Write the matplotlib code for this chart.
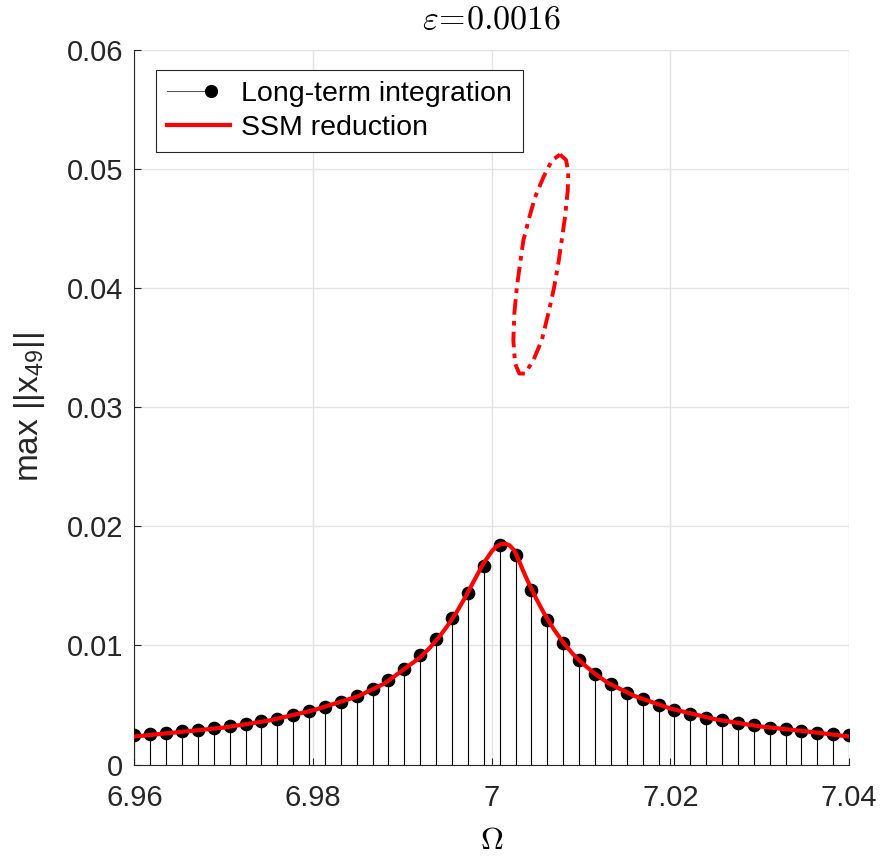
import matplotlib.pyplot as plt
from matplotlib.lines import Line2D
from matplotlib.legend_handler import HandlerBase

plt.rcParams['font.family'] = ['Liberation Sans', 'DejaVu Sans']
plt.rcParams['mathtext.fontset'] = 'custom'
plt.rcParams['mathtext.rm'] = 'Liberation Sans'

# long-term integration samples
omega = [6.96000, 6.96178, 6.96356, 6.96533, 6.96711, 6.96889, 6.97067, 6.97244,
         6.97422, 6.97600, 6.97778, 6.97956, 6.98133, 6.98311, 6.98489, 6.98667,
         6.98844, 6.99022, 6.99200, 6.99378, 6.99556, 6.99733, 6.99911, 7.00089,
         7.00267, 7.00444, 7.00622, 7.00800, 7.00978, 7.01156, 7.01333, 7.01511,
         7.01689, 7.01867, 7.02044, 7.02222, 7.02400, 7.02578, 7.02756, 7.02933,
         7.03111, 7.03289, 7.03467, 7.03644, 7.03822, 7.04000]
amp_int = [0.00246, 0.00260, 0.00268, 0.00279, 0.00293, 0.00307, 0.00321, 0.00344,
           0.00363, 0.00385, 0.00413, 0.00447, 0.00483, 0.00525, 0.00575, 0.00637,
           0.00707, 0.00804, 0.00916, 0.01056, 0.01229, 0.01439, 0.01670, 0.01846,
           0.01760, 0.01466, 0.01215, 0.01020, 0.00874, 0.00763, 0.00673, 0.00603,
           0.00547, 0.00503, 0.00461, 0.00427, 0.00394, 0.00372, 0.00350, 0.00330,
           0.00310, 0.00296, 0.00282, 0.00268, 0.00260, 0.00246]

# SSM reduction, stable branch
omega_ssm = [6.960, 6.965, 6.970, 6.975, 6.980, 6.985, 6.988, 6.990, 6.992, 6.993,
             6.994, 6.995, 6.996, 6.997, 6.998, 6.999, 7.000, 7.0005, 7.001, 7.0015,
             7.002, 7.0025, 7.003, 7.0035, 7.004, 7.005, 7.006, 7.007, 7.008, 7.009,
             7.010, 7.0115, 7.013, 7.016, 7.020, 7.025, 7.030, 7.035, 7.040]
amp_ssm = [0.00235, 0.00272, 0.00310, 0.00368, 0.00455, 0.00572, 0.00680, 0.00790,
           0.00900, 0.00975, 0.01060, 0.01160, 0.01270, 0.01400, 0.01540, 0.01680,
           0.01790, 0.01830, 0.01850, 0.01855, 0.01840, 0.01800, 0.01720, 0.01630,
           0.01545, 0.01390, 0.01250, 0.01130, 0.01025, 0.00935, 0.00860, 0.00765,
           0.00685, 0.00575, 0.00470, 0.00380, 0.00320, 0.00280, 0.00235]

# SSM reduction, unstable branch (closed loop)
omega_uns = [7.00764, 7.00832, 7.00857, 7.00851, 7.00820, 7.00783, 7.00745, 7.00697,
             7.00633, 7.00560, 7.00466, 7.00373, 7.00309, 7.00261, 7.00242, 7.00253,
             7.00280, 7.00317, 7.00354, 7.00421, 7.00485, 7.00578, 7.00672, 7.00764]
amp_uns = [0.05122, 0.05077, 0.04973, 0.04820, 0.04596, 0.04401, 0.04205, 0.04001,
           0.03786, 0.03562, 0.03395, 0.03283, 0.03283, 0.03367, 0.03562, 0.03786,
           0.04001, 0.04205, 0.04401, 0.04596, 0.04764, 0.04931, 0.05071, 0.05122]

xticks = [6.96, 6.98, 7.00, 7.02, 7.04]
xticklabels = ['6.96', '6.98', '7', '7.02', '7.04']
yticks = [0, 0.01, 0.02, 0.03, 0.04, 0.05, 0.06]
yticklabels = ['0', '0.01', '0.02', '0.03', '0.04', '0.05', '0.06']

axcol = '#262626'


class StemHandler(HandlerBase):
    # MATLAB-like stem icon: thin line with a dot towards the right
    def create_artists(self, legend, orig, xd, yd, w, h, fontsize, trans):
        y = 0.5 * h - yd
        ln = Line2D([-xd, -xd + 0.7 * w], [y, y], color='0.35', lw=0.8)
        dot = Line2D([-xd + 0.7 * w], [y], marker='o', ms=8.5, color='k', ls='')
        ln.set_transform(trans)
        dot.set_transform(trans)
        return [ln, dot]


fig = plt.figure(figsize=(8.84, 8.59), dpi=100)
ax = fig.add_axes([0.152, 0.110, 0.8085, 0.8318])

ax.grid(True, color='#e3e3e3', lw=1.0)
ax.set_axisbelow(True)

ax.vlines(omega, 0, amp_int, color='k', lw=0.8, zorder=2)
ax.plot(omega, amp_int, 'o', color='k', ms=8.8, zorder=3)
ax.plot(omega_ssm, amp_ssm, '-', color='red', lw=3.0, zorder=4)
ax.plot(omega_uns, amp_uns, color='red', lw=2.8, ls=(0, (4, 1.6, 1.2, 1.6)), zorder=4)

ax.set_xlim(6.96, 7.04)
ax.set_ylim(0, 0.06)
ax.set_xticks(xticks)
ax.set_xticklabels(xticklabels)
ax.set_yticks(yticks)
ax.set_yticklabels(yticklabels)
ax.tick_params(direction='in', length=5, width=0.8, colors=axcol, labelsize=21)
ax.tick_params(axis='y', pad=8)
ax.tick_params(axis='x', pad=14)

for s in ['top', 'right']:
    ax.spines[s].set_visible(False)
for s in ['left', 'bottom']:
    ax.spines[s].set_color(axcol)
    ax.spines[s].set_linewidth(0.8)

ax.set_title(r'$\varepsilon\!=\!0.0016$', fontsize=24.5, math_fontfamily='cm',
             pad=15, color='k')
ax.set_xlabel(r'$\Omega$', fontsize=23, math_fontfamily='cm', color='k', labelpad=10)
ax.set_ylabel(r'max ||x$_{\mathregular{49}}$||', fontsize=24, color=axcol, labelpad=14)

h_int = Line2D([], [], color='k')
h_ssm = Line2D([], [], color='red', lw=3.0)
leg = ax.legend([h_int, h_ssm], ['Long-term integration', 'SSM reduction'],
                handler_map={h_int: StemHandler()},
                loc='upper left', bbox_to_anchor=(0.03, 0.972),
                fontsize=20.5, fancybox=False, framealpha=1, edgecolor=axcol,
                handlelength=2.2, handletextpad=0.4, borderpad=0.4,
                labelspacing=0.25, borderaxespad=0)
leg.get_frame().set_linewidth(0.8)

fig.savefig('out.png', dpi=100)
